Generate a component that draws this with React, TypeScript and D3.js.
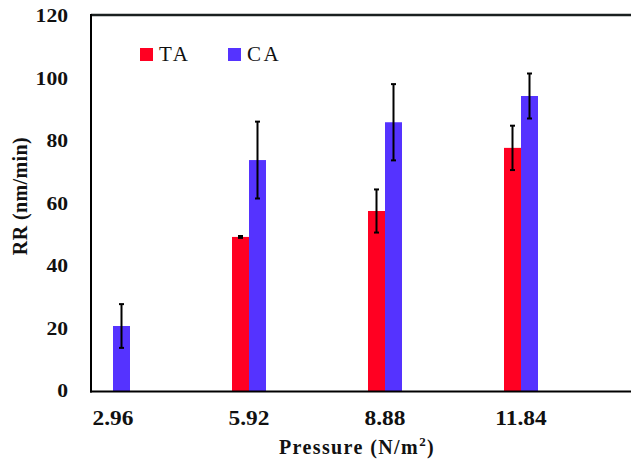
import React from "react";
import * as d3 from "d3";

const categories = ["2.96", "5.92", "8.88", "11.84"];
const seriesNames = ["TA", "CA"];
const taValues: (number | null)[] = [null, 49.3, 57.6, 77.8];
const taErrors: (number | null)[] = [null, 0.3, 6.9, 7.1];
const caValues: (number | null)[] = [20.8, 73.9, 86.0, 94.4];
const caErrors: (number | null)[] = [7.0, 12.3, 12.2, 7.2];
const yTicks = [0, 20, 40, 60, 80, 100, 120];
const colors = ["#ff0022", "#5533ff"];

const W = 631;
const H = 463;
const FONT = "'Liberation Serif', 'Times New Roman', serif";

export default function App() {
  const y = d3.scaleLinear().domain([0, 120]).range([391, 16]);
  const x = d3.scalePoint<string>().domain(categories).range([113, 521]);
  const inner = d3.scaleBand<string>().domain(seriesNames).range([-17, 17]);
  const bw = inner.bandwidth();
  const series = [
    { name: "TA", values: taValues, errors: taErrors, color: colors[0] },
    { name: "CA", values: caValues, errors: caErrors, color: colors[1] },
  ];

  return (
    <svg width={W} height={H} style={{ position: "absolute", left: 0, top: 0, background: "#fff" }} fontFamily={FONT}>
      {/* bars */}
      {series.map((s) =>
        categories.map((c, i) => {
          const v = s.values[i];
          if (v == null) return null;
          const x0 = (x(c) as number) + (inner(s.name) as number);
          return (
            <rect key={s.name + c} x={x0} y={y(v)} width={bw} height={y(0) - y(v)} fill={s.color} />
          );
        })
      )}
      {/* error bars */}
      {series.map((s) =>
        categories.map((c, i) => {
          const v = s.values[i];
          const e = s.errors[i];
          if (v == null || e == null) return null;
          const cx = (x(c) as number) + (inner(s.name) as number) + bw / 2;
          return (
            <g key={"e" + s.name + c} stroke="#000">
              <line x1={cx} x2={cx} y1={y(v + e)} y2={y(v - e)} strokeWidth={2} />
              <line x1={cx - 2.5} x2={cx + 2.5} y1={y(v + e)} y2={y(v + e)} strokeWidth={2} />
              <line x1={cx - 2.5} x2={cx + 2.5} y1={y(v - e)} y2={y(v - e)} strokeWidth={2} />
            </g>
          );
        })
      )}
      {/* frame */}
      <line x1={91} x2={W} y1={15} y2={15} stroke="#1a2020" strokeWidth={2.5} />
      <line x1={91} x2={91} y1={14} y2={392.5} stroke="#000" strokeWidth={2} />
      <line x1={90} x2={W} y1={391.5} y2={391.5} stroke="#000" strokeWidth={2} />
      {/* y ticks */}
      {yTicks.map((t) => (
        <g key={t} transform={`translate(68,${y(t)}) scale(1.2,1)`}>
          <text textAnchor="end" dy="0.35em" fontSize={18} fontWeight="bold" fill="#111">
            {t}
          </text>
        </g>
      ))}
      {/* x ticks */}
      {categories.map((c) => (
        <g key={c} transform={`translate(${x(c)},418) scale(1.17,1)`}>
          <text textAnchor="middle" dy="0.35em" fontSize={20} fontWeight="bold" fill="#111">
            {c}
          </text>
        </g>
      ))}
      {/* axis titles */}
      <text x={357} y={454} textAnchor="middle" fontSize={20} fontWeight="bold" letterSpacing={1.4} fill="#111">
        Pressure (N/m<tspan dy={-8} fontSize={13}>2</tspan>
        <tspan dy={8}>)</tspan>
      </text>
      <text
        transform="translate(27,196) rotate(-90)"
        textAnchor="middle"
        fontSize={20}
        fontWeight="bold"
        letterSpacing={0.4}
        fill="#111"
      >
        RR (nm/min)
      </text>
      {/* legend */}
      {series.map((s, i) => (
        <g key={"l" + s.name} transform={`translate(${140 + i * 88},48)`}>
          <rect x={0} y={0} width={13} height={13} fill={s.color} />
          <text x={19} y={13} fontSize={21} letterSpacing={2.5} fill="#111">
            {s.name}
          </text>
        </g>
      ))}
    </svg>
  );
}
